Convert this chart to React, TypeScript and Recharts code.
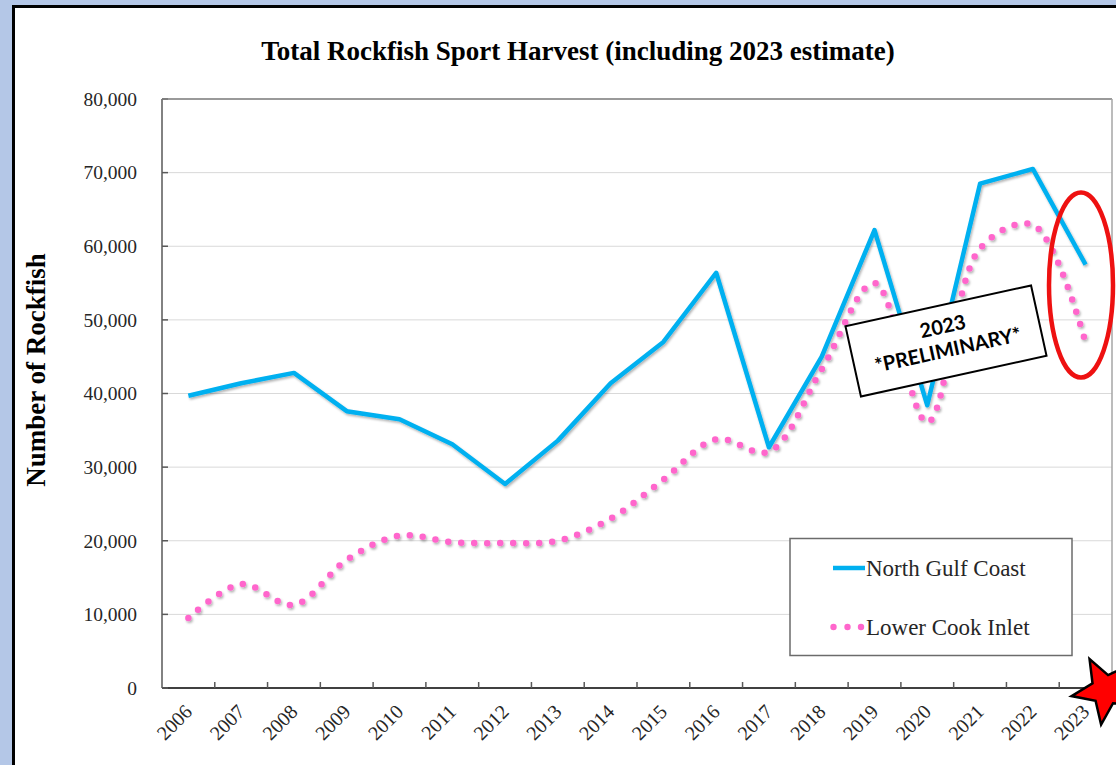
import React from "react";
import { LineChart, Line, XAxis, YAxis, CartesianGrid } from "recharts";

const years = [
  "2006", "2007", "2008", "2009", "2010", "2011", "2012", "2013", "2014",
  "2015", "2016", "2017", "2018", "2019", "2020", "2021", "2022", "2023",
];
const northGulfCoast = [
  39700, 41400, 42800, 37600, 36500, 33100, 27700, 33600, 41400,
  47000, 56400, 32700, 45000, 62200, 38400, 68500, 70500, 57500,
];
const lowerCookInlet = [
  9500, 14100, 11300, 17400, 20700, 19800, 19700, 20000, 23000,
  28300, 33800, 32100, 43300, 55000, 36100, 59700, 62900, 46900,
];
const yTicks = [0, 10000, 20000, 30000, 40000, 50000, 60000, 70000, 80000];

const data = years.map((year, i) => ({
  year,
  ngc: northGulfCoast[i],
  lci: lowerCookInlet[i],
}));

const W = 1116;
const H = 765;
const PLOT = { left: 162, top: 99, right: 1112, bottom: 688 };
const BAND = (PLOT.right - PLOT.left) / years.length;
const SERIF = '"Liberation Serif", "Times New Roman", serif';
const SANS = "Lato, 'Noto Sans', sans-serif";
const BLUE = "#00B0F0";
const PINK = "#FF66CC";

// smoothed line like Excel's: centripetal Catmull-Rom through every point
const smooth = (ctx: any) => {
  let pts: number[][] = [];
  const dist = (a: number[], b: number[]) => Math.sqrt(Math.hypot(a[0] - b[0], a[1] - b[1]));
  return {
    areaStart() {},
    areaEnd() {},
    lineStart() {
      pts = [];
    },
    point(x: number, y: number) {
      pts.push([+x, +y]);
    },
    lineEnd() {
      const n = pts.length;
      if (!n) return;
      ctx.moveTo(pts[0][0], pts[0][1]);
      for (let i = 0; i < n - 1; i++) {
        const p1 = pts[i];
        const p2 = pts[i + 1];
        const p0 = i > 0 ? pts[i - 1] : null;
        const p3 = i + 2 < n ? pts[i + 2] : null;
        const l12 = dist(p1, p2);
        let c1 = p1;
        let c2 = p2;
        if (p0) {
          const l01 = dist(p0, p1);
          const a = 2 * l01 * l01 + 3 * l01 * l12 + l12 * l12;
          const m = 3 * l01 * (l01 + l12);
          c1 = [0, 1].map((k) => (p1[k] * a - p0[k] * l12 * l12 + p2[k] * l01 * l01) / m);
        }
        if (p3) {
          const l23 = dist(p2, p3);
          const b = 2 * l23 * l23 + 3 * l23 * l12 + l12 * l12;
          const m = 3 * l23 * (l23 + l12);
          c2 = [0, 1].map((k) => (p2[k] * b + p1[k] * l23 * l23 - p3[k] * l12 * l12) / m);
        }
        ctx.bezierCurveTo(c1[0], c1[1], c2[0], c2[1], p2[0], p2[1]);
      }
    },
  };
};

const YTick = ({ x, y, payload }: any) => (
  <g>
    <line x1={x + 25} x2={x + 31} y1={y} y2={y} stroke="#595959" strokeWidth={1.5} />
    <text x={x} y={y} dy="0.35em" textAnchor="end" fontFamily={SERIF} fontSize={19.5} fill="#262626">
      {Number(payload.value).toLocaleString("en-US")}
    </text>
  </g>
);

const XTick = ({ x, y, payload }: any) => (
  <g>
    <line x1={x + BAND / 2} x2={x + BAND / 2} y1={y - 8} y2={y - 14} stroke="#595959" strokeWidth={1.5} />
    <text
      transform={`translate(${x + 5},${y + 17}) rotate(-45)`}
      textAnchor="end"
      fontFamily={SERIF}
      fontSize={20}
      fill="#262626"
    >
      {payload.value}
    </text>
  </g>
);

const starPoints = (cx: number, cy: number, R: number, r: number, start: number) => {
  const p: string[] = [];
  for (let i = 0; i < 10; i++) {
    const a = ((start + i * 36) * Math.PI) / 180;
    const rad = i % 2 === 0 ? R : r;
    p.push(`${cx + rad * Math.cos(a)},${cy + rad * Math.sin(a)}`);
  }
  return p.join(" ");
};

export default function App() {
  return (
    <div style={{ position: "fixed", left: 0, top: 0, width: W, height: H, background: "#B4C7E7", overflow: "hidden" }}>
      <div
        style={{
          position: "absolute",
          left: 12,
          top: 5,
          width: 1200,
          height: 800,
          background: "#fff",
          borderLeft: "3px solid #000",
          borderTop: "3px solid #000",
        }}
      />
      <div style={{ position: "absolute", left: 0, top: 0 }}>
        <LineChart
          width={W}
          height={H}
          data={data}
          margin={{ top: PLOT.top, right: W - PLOT.right, left: PLOT.left - 80, bottom: H - PLOT.bottom - 60 }}
        >
          <defs>
            <filter id="shadow" x="-5%" y="-5%" width="110%" height="115%">
              <feDropShadow dx="1.2" dy="1.8" stdDeviation="1" floodColor="#000" floodOpacity="0.3" />
            </filter>
          </defs>
          <CartesianGrid vertical={false} stroke="#D9D9D9" strokeWidth={1} />
          <XAxis
            dataKey="year"
            scale="band"
            interval={0}
            height={60}
            tickLine={false}
            tickSize={0}
            tickMargin={8}
            axisLine={{ stroke: "#404040", strokeWidth: 2 }}
            tick={<XTick />}
          />
          <YAxis
            width={80}
            domain={[0, 80000]}
            ticks={yTicks}
            interval={0}
            tickLine={false}
            tickSize={0}
            tickMargin={25}
            axisLine={{ stroke: "#595959", strokeWidth: 1.5 }}
            tick={<YTick />}
          />
          <Line
            dataKey="ngc"
            name="North Gulf Coast"
            type="linear"
            stroke={BLUE}
            strokeWidth={4.5}
            strokeLinejoin="round"
            dot={false}
            activeDot={false}
            filter="url(#shadow)"
            isAnimationActive={false}
          />
          <Line
            dataKey="lci"
            name="Lower Cook Inlet"
            type={smooth as any}
            stroke={PINK}
            strokeWidth={6.5}
            strokeDasharray="0 13"
            strokeLinecap="round"
            dot={false}
            activeDot={false}
            filter="url(#shadow)"
            isAnimationActive={false}
          />
        </LineChart>
      </div>
      <svg width={W} height={H} style={{ position: "absolute", left: 0, top: 0, pointerEvents: "none" }}>
        <text x={578} y={60} textAnchor="middle" fontFamily={SERIF} fontWeight="bold" fontSize={27} fill="#000">
          Total Rockfish Sport Harvest (including 2023 estimate)
        </text>
        <text
          transform="translate(45,370) rotate(-90)"
          textAnchor="middle"
          fontFamily={SERIF}
          fontWeight="bold"
          fontSize={27}
          fill="#000"
        >
          Number of Rockfish
        </text>
        <line x1={PLOT.left} x2={PLOT.right} y1={PLOT.top} y2={PLOT.top} stroke="#7F7F7F" strokeWidth={1.5} />
        <line x1={PLOT.right} x2={PLOT.right} y1={PLOT.top} y2={PLOT.bottom} stroke="#A6A6A6" strokeWidth={1.5} />

        <g transform="translate(946,341) rotate(-12.4)">
          <rect x={-95} y={-36} width={190} height={72} fill="#fff" stroke="#000" strokeWidth={2} />
          <text x={0} y={-8} textAnchor="middle" fontFamily={SANS} fontWeight="bold" fontSize={20} fill="#000">
            2023
          </text>
          <text x={0} y={16} textAnchor="middle" fontFamily={SANS} fontWeight="bold" fontSize={20} fill="#000">
            *PRELIMINARY*
          </text>
        </g>

        <ellipse cx={1081} cy={285} rx={32} ry={92.5} fill="none" stroke="#EE1111" strokeWidth={4.5} />

        <rect x={790} y={538.5} width={282} height={117} fill="#fff" stroke="#6B6B6B" strokeWidth={1.5} />
        <line x1={833} x2={865} y1={568} y2={568} stroke={BLUE} strokeWidth={4.5} />
        <text x={866} y={576} fontFamily={SERIF} fontSize={23} fill="#262626">
          North Gulf Coast
        </text>
        {[833.5, 847.5, 861].map((cx) => (
          <circle key={cx} cx={cx} cy={627} r={3.2} fill={PINK} />
        ))}
        <text x={866} y={635} fontFamily={SERIF} fontSize={23} fill="#262626">
          Lower Cook Inlet
        </text>

        <polygon points={starPoints(1106, 690, 35, 15, 98)} fill="#FF0000" stroke="#000" strokeWidth={2.5} strokeLinejoin="miter" />
      </svg>
    </div>
  );
}
